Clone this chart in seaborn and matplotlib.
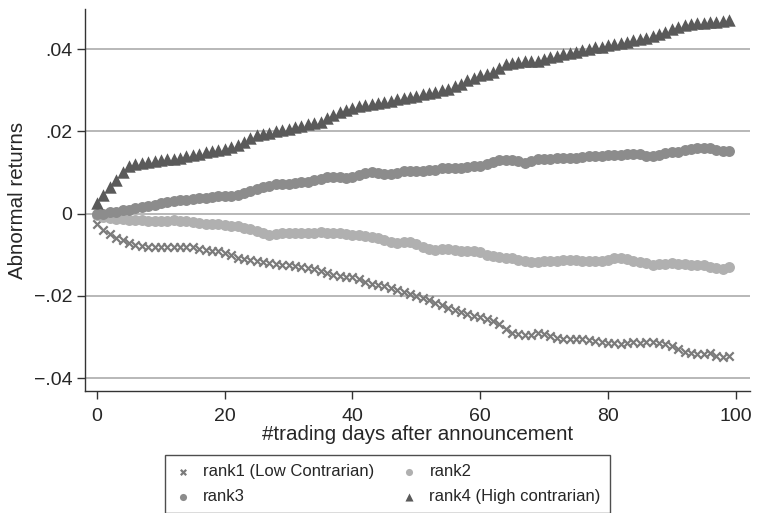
import numpy as np
import pandas as pd
import matplotlib
matplotlib.use('Agg')
import matplotlib.pyplot as plt
import seaborn as sns

# values
days = list(range(100))

rank1 = [-0.0025, -0.0040, -0.0050, -0.0059, -0.0064, -0.0071, -0.0076, -0.0079, -0.0081, -0.0082,
         -0.0081, -0.0082, -0.0081, -0.0080, -0.0081, -0.0082, -0.0085, -0.0088, -0.0090, -0.0092,
         -0.0096, -0.0101, -0.0107, -0.0110, -0.0112, -0.0114, -0.0117, -0.0121, -0.0123, -0.0124,
         -0.0125, -0.0127, -0.0130, -0.0132, -0.0135, -0.0139, -0.0144, -0.0149, -0.0152, -0.0153,
         -0.0154, -0.0160, -0.0166, -0.0170, -0.0173, -0.0176, -0.0180, -0.0185, -0.0190, -0.0195,
         -0.0200, -0.0205, -0.0211, -0.0217, -0.0223, -0.0230, -0.0235, -0.0240, -0.0245, -0.0249,
         -0.0252, -0.0256, -0.0260, -0.0268, -0.0280, -0.0289, -0.0292, -0.0295, -0.0294, -0.0290,
         -0.0293, -0.0298, -0.0302, -0.0304, -0.0305, -0.0305, -0.0306, -0.0308, -0.0310, -0.0313,
         -0.0314, -0.0315, -0.0316, -0.0314, -0.0313, -0.0314, -0.0312, -0.0312, -0.0314, -0.0318,
         -0.0323, -0.0330, -0.0337, -0.0340, -0.0341, -0.0341, -0.0340, -0.0345, -0.0348, -0.0346]

rank2 = [-0.0004, -0.0007, -0.0010, -0.0012, -0.0014, -0.0015, -0.0016, -0.0016, -0.0017, -0.0017,
         -0.0017, -0.0017, -0.0016, -0.0017, -0.0019, -0.0021, -0.0023, -0.0024, -0.0025, -0.0026,
         -0.0027, -0.0029, -0.0031, -0.0034, -0.0038, -0.0043, -0.0048, -0.0051, -0.0050, -0.0048,
         -0.0047, -0.0047, -0.0047, -0.0046, -0.0046, -0.0045, -0.0046, -0.0047, -0.0048, -0.0050,
         -0.0051, -0.0053, -0.0055, -0.0057, -0.0059, -0.0063, -0.0068, -0.0071, -0.0069, -0.0068,
         -0.0075, -0.0082, -0.0086, -0.0088, -0.0087, -0.0087, -0.0088, -0.0090, -0.0091, -0.0092,
         -0.0093, -0.0100, -0.0104, -0.0106, -0.0107, -0.0108, -0.0113, -0.0115, -0.0117, -0.0117,
         -0.0116, -0.0116, -0.0114, -0.0112, -0.0112, -0.0113, -0.0114, -0.0114, -0.0115, -0.0114,
         -0.0112, -0.0109, -0.0108, -0.0111, -0.0114, -0.0117, -0.0121, -0.0124, -0.0123, -0.0122,
         -0.0121, -0.0122, -0.0123, -0.0124, -0.0125, -0.0126, -0.0129, -0.0133, -0.0134, -0.0129]

rank3 = [-0.0002, 0.0000, 0.0003, 0.0005, 0.0008, 0.0010, 0.0013, 0.0016, 0.0019, 0.0022,
         0.0025, 0.0028, 0.0030, 0.0032, 0.0033, 0.0035, 0.0037, 0.0038, 0.0040, 0.0042,
         0.0043, 0.0044, 0.0046, 0.0050, 0.0055, 0.0060, 0.0064, 0.0068, 0.0071, 0.0072,
         0.0073, 0.0074, 0.0076, 0.0078, 0.0081, 0.0084, 0.0088, 0.0090, 0.0089, 0.0087,
         0.0089, 0.0093, 0.0098, 0.0101, 0.0100, 0.0097, 0.0096, 0.0099, 0.0103, 0.0104,
         0.0104, 0.0104, 0.0105, 0.0107, 0.0110, 0.0111, 0.0111, 0.0112, 0.0113, 0.0115,
         0.0117, 0.0120, 0.0125, 0.0130, 0.0131, 0.0130, 0.0127, 0.0123, 0.0127, 0.0132,
         0.0134, 0.0134, 0.0135, 0.0136, 0.0136, 0.0136, 0.0138, 0.0139, 0.0140, 0.0141,
         0.0142, 0.0143, 0.0143, 0.0144, 0.0145, 0.0145, 0.0141, 0.0140, 0.0143, 0.0147,
         0.0149, 0.0151, 0.0154, 0.0157, 0.0159, 0.0160, 0.0159, 0.0155, 0.0153, 0.0153]

rank4 = [0.0026, 0.0045, 0.0065, 0.0083, 0.0101, 0.0117, 0.0121, 0.0124, 0.0126, 0.0128,
         0.0130, 0.0132, 0.0134, 0.0136, 0.0139, 0.0142, 0.0146, 0.0149, 0.0152, 0.0155,
         0.0158, 0.0162, 0.0167, 0.0175, 0.0183, 0.0190, 0.0193, 0.0196, 0.0200, 0.0203,
         0.0207, 0.0210, 0.0213, 0.0217, 0.0220, 0.0224, 0.0233, 0.0240, 0.0246, 0.0253,
         0.0258, 0.0261, 0.0264, 0.0267, 0.0270, 0.0272, 0.0275, 0.0278, 0.0281, 0.0284,
         0.0287, 0.0290, 0.0293, 0.0296, 0.0300, 0.0304, 0.0310, 0.0316, 0.0324, 0.0331,
         0.0336, 0.0340, 0.0345, 0.0355, 0.0363, 0.0367, 0.0369, 0.0370, 0.0372, 0.0372,
         0.0376, 0.0380, 0.0384, 0.0387, 0.0390, 0.0394, 0.0398, 0.0401, 0.0404, 0.0406,
         0.0409, 0.0412, 0.0415, 0.0418, 0.0421, 0.0424, 0.0428, 0.0432, 0.0436, 0.0441,
         0.0448, 0.0454, 0.0458, 0.0461, 0.0463, 0.0464, 0.0465, 0.0466, 0.0468, 0.0471]

series_names = ['rank1 (Low Contrarian)', 'rank2', 'rank3', 'rank4 (High contrarian)']
y_ticks = [-0.04, -0.02, 0, 0.02, 0.04]
y_ticklabels = ['\u2212.04', '\u2212.02', '0', '.02', '.04']
x_ticks = [0, 20, 40, 60, 80, 100]

sns.set_style('white')
plt.rcParams['font.family'] = ['Liberation Sans', 'DejaVu Sans']

fig = plt.figure(figsize=(7.58, 5.13), dpi=100)
ax = fig.add_axes([0.112, 0.238, 0.877, 0.744])

# one style per rank: marker, colour, size
styles = {
    'rank1 (Low Contrarian)': dict(marker='x', color='#7b7b7b', s=36, linewidth=1.6),
    'rank2': dict(marker='o', color='#b0b0b0', s=62, linewidth=0),
    'rank3': dict(marker='o', color='#8c8c8c', s=62, linewidth=0),
    'rank4 (High contrarian)': dict(marker='^', color='#5a5a5a', s=80, linewidth=0),
}
values = dict(zip(series_names, [rank1, rank2, rank3, rank4]))

for name in series_names:
    sns.scatterplot(x=days, y=values[name], ax=ax, label=name, zorder=3, **styles[name])

for t in y_ticks:
    ax.axhline(t, color='#b8b8b8', linewidth=1.4, zorder=1)

ax.set_xlim(-1.9, 102.2)
ax.set_ylim(-0.0431, 0.0497)
ax.set_xticks(x_ticks)
ax.set_yticks(y_ticks)
ax.set_yticklabels(y_ticklabels)
ax.tick_params(axis='both', direction='out', length=6, width=1, color='#333333',
               labelsize=14, left=True, bottom=True, pad=3)
ax.tick_params(axis='x', pad=6)
ax.set_xlabel('#trading days after announcement', fontsize=14.8, labelpad=0)
ax.set_ylabel('Abnormal returns', fontsize=14.8, labelpad=5)

for side in ['top', 'right']:
    ax.spines[side].set_visible(False)
for side in ['left', 'bottom']:
    ax.spines[side].set_color('#333333')
    ax.spines[side].set_linewidth(1)

h, l = ax.get_legend_handles_labels()
order = [0, 2, 1, 3]
leg = ax.legend([h[i] for i in order], [l[i] for i in order], ncol=2,
                loc='upper left', bbox_to_anchor=(0.2177, 0.113, 0.587, 0.0),
                bbox_transform=fig.transFigure, mode='expand',
                frameon=True, fancybox=False, edgecolor='#222222', fontsize=12,
                handletextpad=0.7, columnspacing=1.0, borderaxespad=0, borderpad=0.55,
                labelspacing=0.6, handlelength=1.0, markerscale=0.65)
leg.get_frame().set_linewidth(1)

fig.savefig('out.png', dpi=100)
